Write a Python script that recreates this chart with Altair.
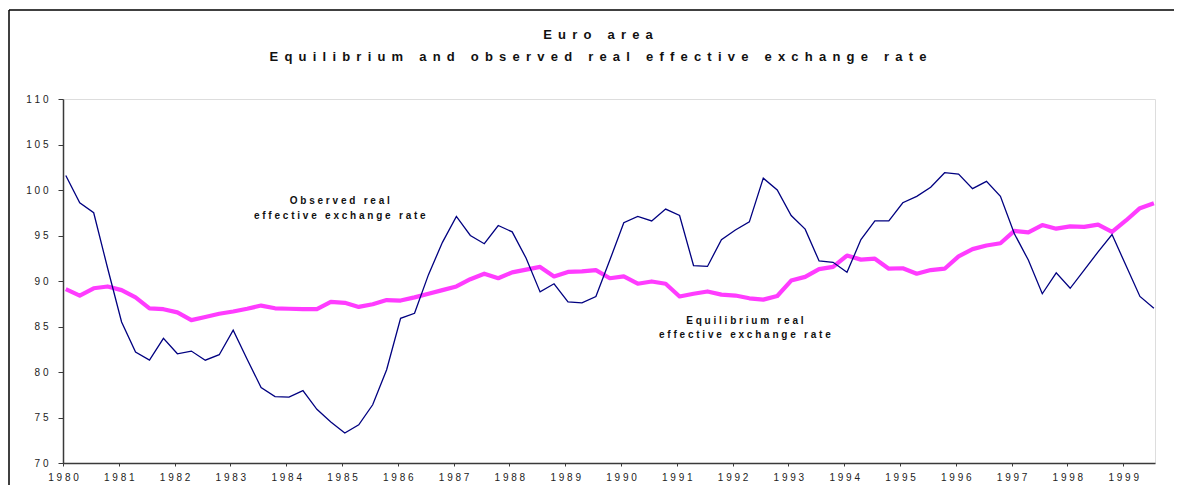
import altair as alt
import pandas as pd

# ---- data (quarterly, 1980Q1 .. 1999Q3) ----
years = list(range(1980, 2000))
observed = [
    101.6, 98.6, 97.5, 91.4,
    85.5, 82.2, 81.3, 83.7,
    82.0, 82.3, 81.3, 81.9,
    84.6, 81.4, 78.3, 77.3,
    77.25, 77.95, 75.9, 74.5,
    73.3, 74.2, 76.4, 80.25,
    85.9, 86.45, 90.7, 94.25,
    97.1, 95.0, 94.1, 96.1,
    95.4, 92.5, 88.8, 89.7,
    87.7, 87.6, 88.3, 92.3,
    96.4, 97.1, 96.6, 97.9,
    97.2, 91.7, 91.6, 94.55,
    95.6, 96.5, 101.3, 100.0,
    97.2, 95.7, 92.2, 92.05,
    90.95, 94.55, 96.6, 96.6,
    98.6, 99.3, 100.3, 101.9,
    101.75, 100.15, 100.95, 99.3,
    95.2, 92.3, 88.6, 90.9,
    89.2, 91.2, 93.2, 95.1,
    91.7, 88.3, 87.0,
]
equilibrium = [
    89.1, 88.4, 89.2, 89.4,
    89.0, 88.2, 87.0, 86.9,
    86.55, 85.7, 86.05, 86.4,
    86.65, 86.95, 87.3, 87.0,
    86.95, 86.9, 86.9, 87.7,
    87.6, 87.15, 87.45, 87.9,
    87.85, 88.2, 88.6, 89.0,
    89.4, 90.2, 90.8, 90.3,
    90.95, 91.25, 91.55, 90.5,
    91.0, 91.05, 91.2, 90.3,
    90.5, 89.7, 89.95, 89.7,
    88.3, 88.6, 88.85, 88.5,
    88.4, 88.1, 87.95, 88.35,
    90.05, 90.45, 91.3, 91.55,
    92.8, 92.35, 92.45, 91.35,
    91.4, 90.8, 91.2, 91.35,
    92.7, 93.5, 93.9, 94.15,
    95.5, 95.35, 96.15, 95.75,
    96.0, 95.95, 96.2, 95.4,
    96.65, 98.0, 98.55,
]
y_ticks = [70, 75, 80, 85, 90, 95, 100, 105, 110]
series_names = ["Observed real effective exchange rate",
                "Equilibrium real effective exchange rate"]
series_colors = ["#000080", "#ff3cff"]
title_text = ["Euro area", "Equilibrium and observed real effective exchange rate"]

time = [1980 + i / 4 + 0.05 for i in range(len(observed))]

df = pd.DataFrame({
    "time": time * 2,
    "value": observed + equilibrium,
    "series": [series_names[0]] * len(observed) + [series_names[1]] * len(equilibrium),
})

NB = "\u00a0"
TH = "\u2009"


def spaced(s, gap):
    return gap.join(s)


FONT = "Liberation Sans"

x = alt.X("time:Q", scale=alt.Scale(domain=[1980, 1999.57], nice=False, zero=False),
          axis=alt.Axis(values=years, format="d", title=None, grid=False,
                        labelExpr="join(split(datum.label, ''), '\u00a0')",
                        tickSize=3, labelPadding=6, labelFontSize=10,
                        labelColor="#222222", labelFont=FONT, labelFlush=False,
                        labelOverlap=False,
                        domainColor="#3a3a3a", domainWidth=1.5, tickColor="#3a3a3a"))
y = alt.Y("value:Q", scale=alt.Scale(domain=[70, 110], nice=False, zero=False),
          axis=alt.Axis(values=y_ticks, title=None, grid=False,
                        labelExpr="join(split(datum.label, ''), '\u00a0')",
                        tickSize=5, labelPadding=10, labelFontSize=10,
                        labelColor="#222222", labelFont=FONT,
                        domainColor="#3a3a3a", domainWidth=1.5, tickColor="#3a3a3a"))

color = alt.Color("series:N", scale=alt.Scale(domain=series_names, range=series_colors),
                  legend=None)

eq_line = alt.Chart(df).transform_filter(
    alt.datum.series == series_names[1]).mark_line(
    strokeJoin="round").encode(x=x, y=y, color=color, strokeWidth=alt.value(4.2))
obs_line = alt.Chart(df).transform_filter(
    alt.datum.series == series_names[0]).mark_line(
    strokeJoin="miter").encode(x=x, y=y, color=color, strokeWidth=alt.value(1.3))

ann_df = pd.DataFrame({
    "time": [1984.96, 1984.96, 1992.22, 1992.22],
    "value": [98.75, 97.1, 85.65, 84.1],
    "label": [spaced("Observed real", NB), spaced("effective exchange rate", NB),
              spaced("Equilibrium real", NB), spaced("effective exchange rate", NB)],
})
ann = alt.Chart(ann_df).mark_text(font=FONT, fontSize=10, fontWeight="bold",
                                  color="#111111", baseline="middle", align="center").encode(
    x=alt.X("time:Q"), y=alt.Y("value:Q"), text="label:N")

title_df = pd.DataFrame({"label": [spaced(t, NB + TH) for t in title_text],
                         "row": [0, 1]})
title1 = alt.Chart(title_df).transform_filter(alt.datum.row == 0).mark_text(
    font=FONT, fontSize=13, fontWeight="bold", color="#111111",
    baseline="middle", align="center").encode(
    x=alt.value(535), y=alt.value(-64), text="label:N")
title2 = alt.Chart(title_df).transform_filter(alt.datum.row == 1).mark_text(
    font=FONT, fontSize=13, fontWeight="bold", color="#111111",
    baseline="middle", align="center").encode(
    x=alt.value(535), y=alt.value(-42), text="label:N")

frame_left = alt.Chart(pd.DataFrame({"a": [0]})).mark_rule(
    color="#000000", strokeWidth=1.5).encode(
    x=alt.value(-54), y=alt.value(-89), y2=alt.value(420))
frame_top = alt.Chart(pd.DataFrame({"a": [0]})).mark_rule(
    color="#000000", strokeWidth=1.5).encode(
    x=alt.value(-54), x2=alt.value(1140), y=alt.value(-89))

chart = alt.layer(eq_line, obs_line, ann, title1, title2, frame_left, frame_top).properties(
    width=1092, height=364,
    autosize=alt.AutoSizeParams(type="none"),
    padding={"left": 55, "top": 91, "right": 19, "bottom": 22},
).configure_view(stroke="#a0a0a0", strokeWidth=1.5).configure(background="white")

chart.save("out.html", embed_options={"renderer": "svg", "actions": False})
